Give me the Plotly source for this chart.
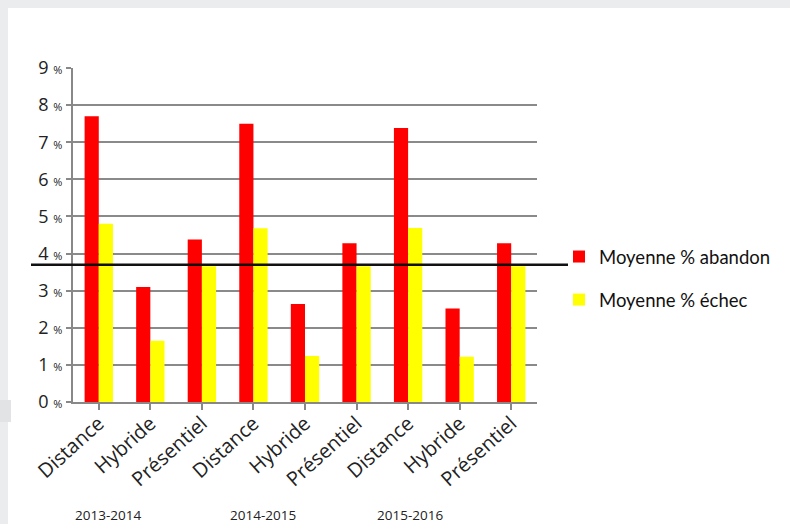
import plotly.graph_objects as go

categories = ["Distance", "Hybride", "Présentiel"] * 3
years = ["2013-2014", "2014-2015", "2015-2016"]
abandon = [7.7, 3.1, 4.38, 7.5, 2.64, 4.28, 7.38, 2.52, 4.28]
echec = [4.8, 1.65, 3.66, 4.68, 1.24, 3.66, 4.69, 1.22, 3.66]
moyenne_line = 3.7
y_ticks = list(range(0, 10))

x_idx = list(range(len(categories)))

fig = go.Figure()
fig.add_trace(go.Bar(x=x_idx, y=abandon, name="Moyenne % abandon",
                     marker=dict(color="#FF0000", line=dict(width=0)),
                     legendgroup="a"))
fig.add_trace(go.Bar(x=x_idx, y=echec, name="Moyenne % échec",
                     marker=dict(color="#FFFF00", line=dict(width=0)),
                     legendgroup="b"))

W, H = 790, 524
L, R, T, B = 73, 537, 68, 402
pw, ph = R - L, B - T

def px(x):
    return (x - L) / pw

def py(y):
    return (B - y) / ph

shapes = [
    dict(type="rect", xref="paper", yref="paper", x0=px(8), x1=px(W + 5),
         y0=py(H + 5), y1=py(8), fillcolor="white", line=dict(width=0), layer="below"),
    dict(type="rect", xref="paper", yref="paper", x0=px(-5), x1=px(11),
         y0=py(422), y1=py(400), fillcolor="#E2E3E5", line=dict(width=0), layer="below"),
    dict(type="line", xref="paper", yref="y", x0=px(31), x1=px(568),
         y0=moyenne_line, y1=moyenne_line, line=dict(color="#111111", width=2.5), layer="above"),
]

annotations = []
year_px = [108, 263, 410]
for yr, xp in zip(years, year_px):
    annotations.append(dict(text=yr, xref="paper", yref="paper", x=px(xp), y=py(515),
                            showarrow=False, xanchor="center", yanchor="middle",
                            font=dict(family="Open Sans", size=13.5, color="#222222")))

fig.update_layout(
    width=W, height=H,
    margin=dict(l=L, r=W - R, t=T, b=H - B, pad=0),
    paper_bgcolor="#EBECEE", plot_bgcolor="white",
    barmode="group", bargap=0.45, bargroupgap=0,
    shapes=shapes, annotations=annotations,
    showlegend=True,
    legend=dict(x=px(559), y=py(238), xanchor="left", yanchor="top",
                font=dict(family="Lato", size=18.5, color="#111111"),
                tracegroupgap=16, bgcolor="rgba(0,0,0,0)", itemsizing="constant"),
    xaxis=dict(
        tickmode="array", tickvals=x_idx, ticktext=categories,
        range=[-0.5, len(categories) - 0.5], automargin=False,
        tickangle=-42, tickson="boundaries", ticks="outside", ticklen=6,
        tickcolor="#888888", tickwidth=2, ticklabelstandoff=-6,
        showline=True, linecolor="#888888", linewidth=2,
        showgrid=False,
        tickfont=dict(family="Open Sans", size=20, color="#222222"),
    ),
    yaxis=dict(
        range=[0, 9], tickmode="array", tickvals=y_ticks, automargin=False,
        ticktext=[f"{v} <span style='font-size:11px'>%</span>" for v in y_ticks],
        ticks="outside", ticklen=5, tickcolor="#888888", tickwidth=2,
        showline=True, linecolor="#888888", linewidth=2,
        showgrid=True, gridcolor="#8a8a8a", gridwidth=2,
        zeroline=False,
        tickfont=dict(family="Open Sans", size=18, color="#222222"),
    ),
)

fig.write_html("out.html", config={"displayModeBar": False, "responsive": False},
               post_script="document.body.style.margin='0';document.body.style.overflow='hidden';")
